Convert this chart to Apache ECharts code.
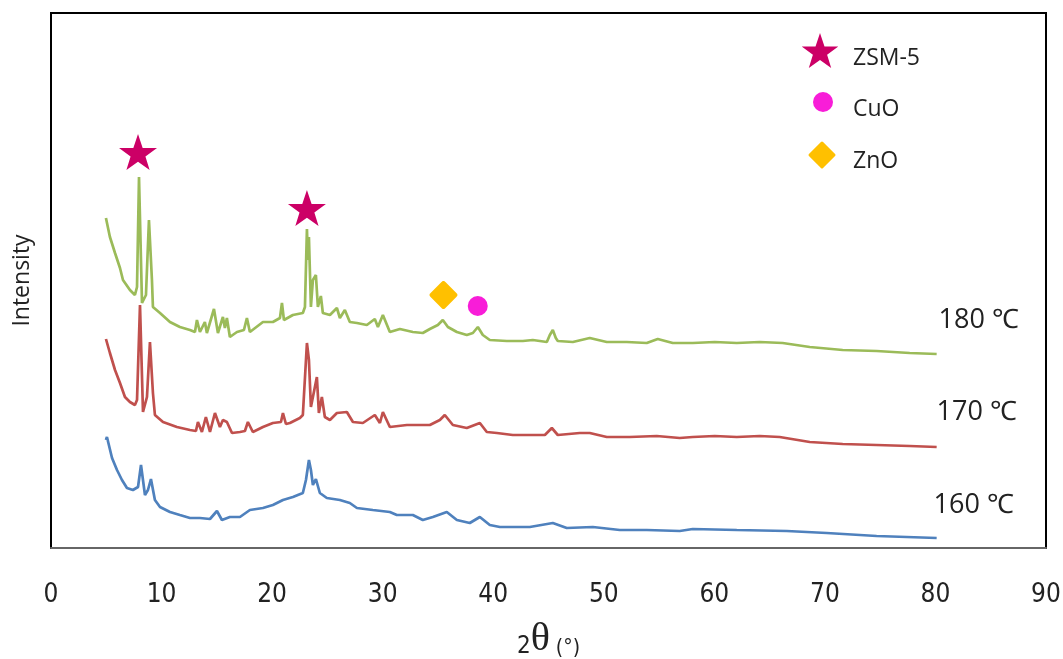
<!DOCTYPE html>
<html>
<head>
<meta charset="utf-8">
<script src="https://cdn.jsdelivr.net/npm/echarts@6/dist/echarts.min.js"></script>
<style>
html,body{margin:0;padding:0;background:#fff;}
#chart{width:1063px;height:659px;}
</style>
</head>
<body>
<div id="chart"></div>
<script>
// 2θ (degrees) and intensity (arbitrary units, offset traces)
var theta180 = [4.97,5.33,5.79,6.24,6.51,7.14,7.59,7.78,7.96,8.23,8.59,8.86,9.13,9.22,9.86,10.76,11.66,12.57,13.02,13.20,13.47,13.92,14.10,14.74,15.10,15.55,15.73,15.91,16.18,16.82,17.45,17.72,17.99,19.17,20.07,20.71,20.89,21.07,21.88,22.78,22.97,23.15,23.24,23.33,23.51,23.69,23.96,24.14,24.41,24.59,25.23,25.86,26.13,26.58,27.03,27.67,28.57,29.29,29.57,30.02,30.65,31.56,32.73,33.63,34.27,34.99,35.44,35.90,36.71,37.61,38.16,38.61,39.06,39.69,41.23,42.68,43.58,44.85,45.12,45.39,45.66,45.84,47.20,48.73,50.27,52.08,53.89,54.88,56.24,58.05,60.04,62.03,64.10,66.18,68.63,71.61,74.68,77.67,80.11];
var int180 = [330,311,295,280,268,258,253,261,371,245,253,328,268,241,235,226,221,218,216,228,216,226,215,239,215,231,220,230,211,216,218,230,216,226,226,230,245,228,233,235,241,319,288,311,241,268,273,241,252,235,233,240,230,238,226,225,223,229,221,233,216,219,216,215,219,223,228,221,216,213,215,221,213,208,207,207,208,206,213,218,210,207,206,210,206,206,205,209,205,205,206,205,206,205,201,198,197,195,194];

var theta170 = [4.97,5.33,5.79,6.24,6.69,7.14,7.59,7.78,8.05,8.32,8.68,8.95,9.22,9.40,10.13,11.39,12.57,13.11,13.29,13.65,14.01,14.38,14.83,15.28,15.55,15.91,16.37,17.09,17.54,17.81,18.26,19.17,20.07,20.80,20.98,21.25,21.61,22.51,22.78,23.15,23.33,23.51,24.05,24.23,24.50,24.77,25.23,25.86,26.76,27.31,28.21,29.29,29.75,30.02,30.65,32.19,34.27,35.17,35.62,36.35,37.61,38.79,39.42,40.33,41.77,43.31,44.67,45.30,45.84,47.83,48.73,50.27,52.35,54.79,56.87,58.05,60.04,62.03,64.10,65.91,68.63,71.61,74.68,77.67,80.11];
var int170 = [209,195,178,165,151,146,143,148,243,136,151,206,155,133,126,121,118,117,126,116,131,116,135,121,128,126,115,116,117,126,116,121,125,126,135,124,125,130,133,205,188,141,171,135,151,131,128,135,136,126,125,133,125,136,121,123,123,128,133,123,120,125,116,115,113,113,113,120,113,115,115,111,111,112,110,111,112,111,112,111,106,104,103,102,101];

var theta160 = [4.97,5.06,5.52,5.97,6.42,6.87,7.41,7.87,8.14,8.50,8.77,9.04,9.40,9.86,10.76,11.66,12.57,13.47,14.38,15.01,15.46,16.18,17.09,17.99,19.17,20.07,20.98,21.88,22.78,23.06,23.33,23.51,23.69,23.96,24.32,24.95,26.13,27.03,27.67,29.11,30.65,31.28,32.73,33.63,34.54,35.80,36.71,37.88,38.79,39.69,40.60,43.31,45.39,46.65,49.01,51.45,53.89,56.87,58.05,62.03,66.55,70.16,74.68,80.11];
var int160 = [108,111,90,78,68,60,58,61,83,53,58,69,48,41,36,33,30,30,29,37,28,31,31,38,40,43,48,51,55,68,88,78,63,69,55,50,48,45,40,38,36,33,33,28,31,36,28,25,31,23,21,21,25,20,21,18,18,17,19,18,17,15,12,10];

// phase markers placed above the peaks
var zsmMarks = [[7.87,396],[23.15,340]];
var cuoMarks = [[38.6,242]];
var znoMarks = [[35.5,253]];

var xTicks = [0,10,20,30,40,50,60,70,80,90];
var traceLabels = ['180 ℃','170 ℃','160 ℃'];
var legendNames = ['ZSM-5','CuO','ZnO'];

function pairs(xs, ys){ var out=[]; for(var i=0;i<xs.length;i++){ out.push([xs[i], ys[i]]); } return out; }

var starPath = 'path://M50,0 L61.8,35.1 L98.1,35.1 L68.8,56.7 L79.4,91 L50,70 L20.6,91 L31.2,56.7 L1.9,35.1 L38.2,35.1 Z';
var diamondPath = 'path://M50,0 C53,0 55,2 57,4 L96,43 C98,45 100,47 100,50 C100,53 98,55 96,57 L57,96 C55,98 53,100 50,100 C47,100 45,98 43,96 L4,57 C2,55 0,53 0,50 C0,47 2,45 4,43 L43,4 C45,2 47,0 50,0 Z';

var C_ZSM = '#CC0066', C_CUO = '#F81DD8', C_ZNO = '#FFC000';

var chart = echarts.init(document.getElementById('chart'));
var lineStyleBase = {width:2.7};
var txtFont = '"Open Sans","Noto Sans",sans-serif';
var narrow = '"Liberation Sans Narrow","DejaVu Sans Condensed",sans-serif';
var legendFont = '23px "Open Sans","Noto Sans",sans-serif';

chart.setOption({
  animation:false,
  grid:{left:51, right:17, top:13, bottom:111, outerBoundsMode:'none', containLabel:false,
        show:true, borderColor:'#000', borderWidth:2, backgroundColor:'#fff'},
  xAxis:{
    type:'value', min:0, max:90, interval:10,
    axisLine:{show:true, lineStyle:{color:'#666', width:2}},
    axisTick:{show:false}, splitLine:{show:false},
    axisLabel:{margin:34, fontSize:26, color:'#222', fontFamily:narrow,
      formatter:function(v){ return xTicks.indexOf(v)>=0 ? String(v) : ''; }},
    name:'{a|2}{b|θ}{c| (°)}', nameLocation:'middle', nameGap:71,
    nameTextStyle:{rich:{
      a:{fontSize:24, fontFamily:narrow, color:'#222', verticalAlign:'bottom'},
      b:{fontSize:40, fontFamily:'"Liberation Serif","DejaVu Serif",serif', color:'#222', verticalAlign:'bottom'},
      c:{fontSize:21, fontFamily:narrow, color:'#222', verticalAlign:'bottom'}
    }}
  },
  yAxis:{
    type:'value', min:0, max:535,
    axisLine:{show:true, lineStyle:{color:'#000', width:2}},
    axisTick:{show:false}, axisLabel:{show:false}, splitLine:{show:false},
    name:'Intensity', nameLocation:'middle', nameGap:17, nameRotate:90,
    nameTextStyle:{fontSize:23, fontFamily:txtFont, color:'#222'}
  },
  graphic:[
    {type:'polygon', shape:{points:[[820,33],[824.5,46.5],[838.3,46.5],[827.1,54.8],[831.2,68],[820,60],[808.8,68],[812.9,54.8],[801.7,46.5],[815.5,46.5]]}, style:{fill:C_ZSM}, z:10},
    {type:'circle', shape:{cx:823, cy:102, r:10}, style:{fill:C_CUO}, z:10},
    {type:'polygon', shape:{points:[[822,143],[834,155],[822,167],[810,155]]}, style:{fill:C_ZNO, stroke:C_ZNO, lineWidth:3, lineJoin:'round'}, z:10},
    {type:'text', left:853, top:47, style:{text:legendNames[0], font:legendFont, fill:'#222'}, z:10},
    {type:'text', left:853, top:98, style:{text:legendNames[1], font:legendFont, fill:'#222'}, z:10},
    {type:'text', left:853, top:150, style:{text:legendNames[2], font:legendFont, fill:'#222'}, z:10}
  ],
  series:[
    {name:'180', type:'line', data:pairs(theta180,int180), showSymbol:false, symbol:'none', lineStyle:Object.assign({color:'#9BBB59'},lineStyleBase), itemStyle:{color:'#9BBB59'}, z:2,
     endLabel:{show:true, formatter:traceLabels[0], offset:[34,-34], fontSize:27, fontFamily:txtFont, color:'#222', align:'center'}},
    {name:'170', type:'line', data:pairs(theta170,int170), showSymbol:false, symbol:'none', lineStyle:Object.assign({color:'#C0504D'},lineStyleBase), itemStyle:{color:'#C0504D'}, z:2,
     endLabel:{show:true, formatter:traceLabels[1], offset:[32,-35], fontSize:27, fontFamily:txtFont, color:'#222', align:'center'}},
    {name:'160', type:'line', data:pairs(theta160,int160), showSymbol:false, symbol:'none', lineStyle:Object.assign({color:'#4F81BD'},lineStyleBase), itemStyle:{color:'#4F81BD'}, z:2,
     endLabel:{show:true, formatter:traceLabels[2], offset:[29,-33], fontSize:27, fontFamily:txtFont, color:'#222', align:'center'}},
    {name:'ZSM-5', type:'scatter', data:zsmMarks, symbol:starPath, symbolSize:[38,36], itemStyle:{color:C_ZSM, opacity:1}, z:5},
    {name:'CuO', type:'scatter', data:cuoMarks, symbol:'circle', symbolSize:20, itemStyle:{color:C_CUO, opacity:1}, z:5},
    {name:'ZnO', type:'scatter', data:znoMarks, symbol:diamondPath, symbolSize:[28,28], itemStyle:{color:C_ZNO, opacity:1}, z:5}
  ]
});
</script>
</body>
</html>
